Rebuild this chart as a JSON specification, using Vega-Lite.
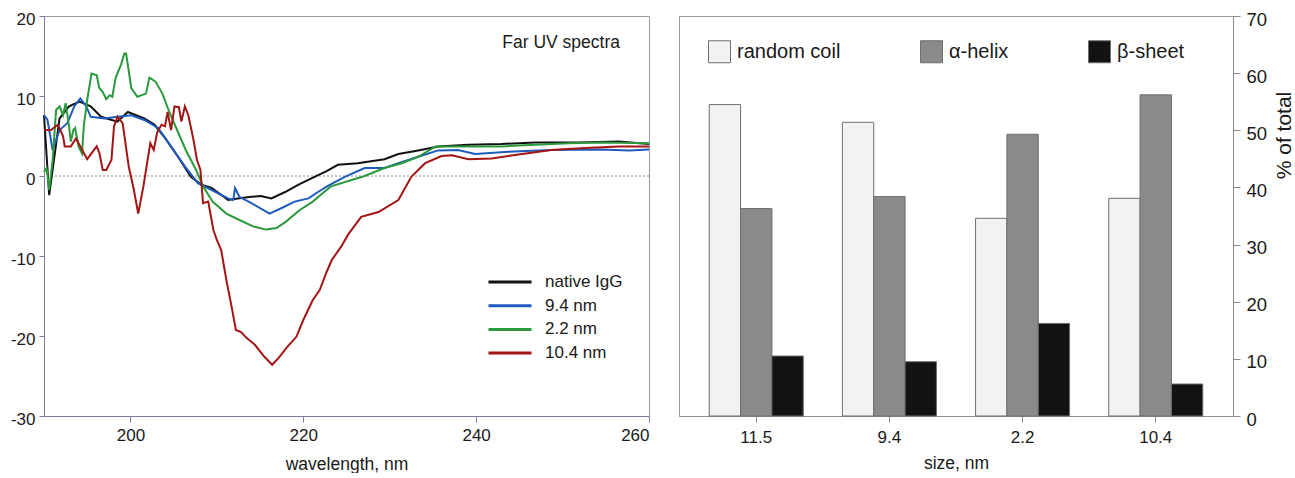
{
  "$schema": "https://vega.github.io/schema/vega-lite/v6.json",
  "background": "white",
  "padding": {"left": 9, "top": 9, "right": 0, "bottom": 0},
  "autosize": {"type": "pad"},
  "bounds": "flush",
  "spacing": 30,
  "config": {
    "font": "Liberation Sans",
    "view": {"stroke": "#9a9a9a", "strokeWidth": 1},
    "title": {"fontSize": 17.5, "fontWeight": "normal", "font": "Liberation Sans", "color": "#1a1a1a"},
    "axis": {
      "labelFont": "Liberation Sans",
      "titleFont": "Liberation Sans",
      "labelColor": "#1a1a1a",
      "titleColor": "#1a1a1a",
      "titleFontWeight": "normal",
      "grid": false
    },
    "legend": {"labelFont": "Liberation Sans", "labelColor": "#1a1a1a"}
  },
  "datasets": {
    "spectra": [
      {"wl": 190, "cd": 7.6, "sample": "native IgG"},
      {"wl": 190.6, "cd": -2.4, "sample": "native IgG"},
      {"wl": 191.8, "cd": 7.2, "sample": "native IgG"},
      {"wl": 192.9, "cd": 8.7, "sample": "native IgG"},
      {"wl": 194.1, "cd": 9.3, "sample": "native IgG"},
      {"wl": 195.4, "cd": 8.7, "sample": "native IgG"},
      {"wl": 196.6, "cd": 7.4, "sample": "native IgG"},
      {"wl": 198.5, "cd": 6.8, "sample": "native IgG"},
      {"wl": 199.7, "cd": 8.0, "sample": "native IgG"},
      {"wl": 201.6, "cd": 7.2, "sample": "native IgG"},
      {"wl": 202.8, "cd": 6.4, "sample": "native IgG"},
      {"wl": 203.9, "cd": 4.9, "sample": "native IgG"},
      {"wl": 205.5, "cd": 2.4, "sample": "native IgG"},
      {"wl": 207.0, "cd": -0.1, "sample": "native IgG"},
      {"wl": 208.2, "cd": -1.1, "sample": "native IgG"},
      {"wl": 209.4, "cd": -1.5, "sample": "native IgG"},
      {"wl": 211.3, "cd": -3.0, "sample": "native IgG"},
      {"wl": 212.4, "cd": -2.8, "sample": "native IgG"},
      {"wl": 214.0, "cd": -2.6, "sample": "native IgG"},
      {"wl": 215.1, "cd": -2.5, "sample": "native IgG"},
      {"wl": 216.3, "cd": -2.8, "sample": "native IgG"},
      {"wl": 217.9, "cd": -2.0, "sample": "native IgG"},
      {"wl": 219.4, "cd": -1.1, "sample": "native IgG"},
      {"wl": 221.3, "cd": -0.1, "sample": "native IgG"},
      {"wl": 222.7, "cd": 0.6, "sample": "native IgG"},
      {"wl": 224.0, "cd": 1.4, "sample": "native IgG"},
      {"wl": 226.3, "cd": 1.6, "sample": "native IgG"},
      {"wl": 229.4, "cd": 2.1, "sample": "native IgG"},
      {"wl": 231.0, "cd": 2.75, "sample": "native IgG"},
      {"wl": 233.3, "cd": 3.2, "sample": "native IgG"},
      {"wl": 235.6, "cd": 3.7, "sample": "native IgG"},
      {"wl": 239.1, "cd": 3.9, "sample": "native IgG"},
      {"wl": 242.9, "cd": 4.0, "sample": "native IgG"},
      {"wl": 246.8, "cd": 4.2, "sample": "native IgG"},
      {"wl": 251.8, "cd": 4.2, "sample": "native IgG"},
      {"wl": 256.5, "cd": 4.3, "sample": "native IgG"},
      {"wl": 260, "cd": 4.0, "sample": "native IgG"},

      {"wl": 190, "cd": 7.6, "sample": "9.4 nm"},
      {"wl": 190.4, "cd": 7.0, "sample": "9.4 nm"},
      {"wl": 191.0, "cd": 3.25, "sample": "9.4 nm"},
      {"wl": 191.8, "cd": 5.75, "sample": "9.4 nm"},
      {"wl": 192.7, "cd": 6.6, "sample": "9.4 nm"},
      {"wl": 193.5, "cd": 8.7, "sample": "9.4 nm"},
      {"wl": 194.2, "cd": 9.7, "sample": "9.4 nm"},
      {"wl": 194.9, "cd": 8.7, "sample": "9.4 nm"},
      {"wl": 195.4, "cd": 7.4, "sample": "9.4 nm"},
      {"wl": 197.0, "cd": 7.2, "sample": "9.4 nm"},
      {"wl": 198.5, "cd": 7.4, "sample": "9.4 nm"},
      {"wl": 200.1, "cd": 7.6, "sample": "9.4 nm"},
      {"wl": 201.6, "cd": 7.0, "sample": "9.4 nm"},
      {"wl": 203.2, "cd": 6.0, "sample": "9.4 nm"},
      {"wl": 204.7, "cd": 3.7, "sample": "9.4 nm"},
      {"wl": 206.3, "cd": 1.2, "sample": "9.4 nm"},
      {"wl": 207.8, "cd": -0.9, "sample": "9.4 nm"},
      {"wl": 209.4, "cd": -1.75, "sample": "9.4 nm"},
      {"wl": 211.3, "cd": -2.8, "sample": "9.4 nm"},
      {"wl": 211.9, "cd": -3.0, "sample": "9.4 nm"},
      {"wl": 212.1, "cd": -1.5, "sample": "9.4 nm"},
      {"wl": 212.6, "cd": -2.6, "sample": "9.4 nm"},
      {"wl": 214.0, "cd": -3.4, "sample": "9.4 nm"},
      {"wl": 216.1, "cd": -4.7, "sample": "9.4 nm"},
      {"wl": 217.5, "cd": -4.0, "sample": "9.4 nm"},
      {"wl": 219.0, "cd": -3.2, "sample": "9.4 nm"},
      {"wl": 220.6, "cd": -2.8, "sample": "9.4 nm"},
      {"wl": 221.7, "cd": -2.0, "sample": "9.4 nm"},
      {"wl": 222.9, "cd": -1.2, "sample": "9.4 nm"},
      {"wl": 224.8, "cd": -0.1, "sample": "9.4 nm"},
      {"wl": 227.1, "cd": 1.0, "sample": "9.4 nm"},
      {"wl": 229.4, "cd": 1.0, "sample": "9.4 nm"},
      {"wl": 231.0, "cd": 1.6, "sample": "9.4 nm"},
      {"wl": 233.3, "cd": 2.4, "sample": "9.4 nm"},
      {"wl": 235.6, "cd": 3.2, "sample": "9.4 nm"},
      {"wl": 237.9, "cd": 3.25, "sample": "9.4 nm"},
      {"wl": 239.9, "cd": 2.75, "sample": "9.4 nm"},
      {"wl": 243.3, "cd": 3.0, "sample": "9.4 nm"},
      {"wl": 248.7, "cd": 3.25, "sample": "9.4 nm"},
      {"wl": 254.5, "cd": 3.3, "sample": "9.4 nm"},
      {"wl": 257.7, "cd": 3.2, "sample": "9.4 nm"},
      {"wl": 260, "cd": 3.3, "sample": "9.4 nm"},

      {"wl": 190, "cd": 0.5, "sample": "2.2 nm"},
      {"wl": 190.3, "cd": 1.0, "sample": "2.2 nm"},
      {"wl": 190.6, "cd": -1.75, "sample": "2.2 nm"},
      {"wl": 191.0, "cd": 2.0, "sample": "2.2 nm"},
      {"wl": 191.4, "cd": 8.25, "sample": "2.2 nm"},
      {"wl": 191.8, "cd": 8.7, "sample": "2.2 nm"},
      {"wl": 192.2, "cd": 7.6, "sample": "2.2 nm"},
      {"wl": 192.5, "cd": 9.1, "sample": "2.2 nm"},
      {"wl": 192.9, "cd": 6.2, "sample": "2.2 nm"},
      {"wl": 193.1, "cd": 4.3, "sample": "2.2 nm"},
      {"wl": 193.4, "cd": 5.75, "sample": "2.2 nm"},
      {"wl": 193.6, "cd": 6.0, "sample": "2.2 nm"},
      {"wl": 194.0, "cd": 3.7, "sample": "2.2 nm"},
      {"wl": 194.4, "cd": 2.8, "sample": "2.2 nm"},
      {"wl": 194.6, "cd": 6.2, "sample": "2.2 nm"},
      {"wl": 195.0, "cd": 9.5, "sample": "2.2 nm"},
      {"wl": 195.5, "cd": 12.8, "sample": "2.2 nm"},
      {"wl": 196.1, "cd": 12.6, "sample": "2.2 nm"},
      {"wl": 196.4, "cd": 11.0, "sample": "2.2 nm"},
      {"wl": 196.8, "cd": 10.5, "sample": "2.2 nm"},
      {"wl": 197.2, "cd": 9.6, "sample": "2.2 nm"},
      {"wl": 197.6, "cd": 10.1, "sample": "2.2 nm"},
      {"wl": 197.9, "cd": 9.9, "sample": "2.2 nm"},
      {"wl": 198.3, "cd": 12.3, "sample": "2.2 nm"},
      {"wl": 198.9, "cd": 13.9, "sample": "2.2 nm"},
      {"wl": 199.3, "cd": 15.3, "sample": "2.2 nm"},
      {"wl": 199.5, "cd": 15.3, "sample": "2.2 nm"},
      {"wl": 200.1, "cd": 11.0, "sample": "2.2 nm"},
      {"wl": 200.8, "cd": 9.9, "sample": "2.2 nm"},
      {"wl": 201.8, "cd": 10.3, "sample": "2.2 nm"},
      {"wl": 202.2, "cd": 12.3, "sample": "2.2 nm"},
      {"wl": 202.9, "cd": 11.8, "sample": "2.2 nm"},
      {"wl": 203.7, "cd": 10.3, "sample": "2.2 nm"},
      {"wl": 204.5, "cd": 8.0, "sample": "2.2 nm"},
      {"wl": 205.3, "cd": 6.0, "sample": "2.2 nm"},
      {"wl": 206.4, "cd": 3.25, "sample": "2.2 nm"},
      {"wl": 207.6, "cd": 0.75, "sample": "2.2 nm"},
      {"wl": 208.4, "cd": -1.3, "sample": "2.2 nm"},
      {"wl": 209.5, "cd": -3.2, "sample": "2.2 nm"},
      {"wl": 211.1, "cd": -4.7, "sample": "2.2 nm"},
      {"wl": 212.6, "cd": -5.5, "sample": "2.2 nm"},
      {"wl": 214.2, "cd": -6.3, "sample": "2.2 nm"},
      {"wl": 215.7, "cd": -6.7, "sample": "2.2 nm"},
      {"wl": 216.9, "cd": -6.5, "sample": "2.2 nm"},
      {"wl": 218.0, "cd": -5.7, "sample": "2.2 nm"},
      {"wl": 219.6, "cd": -4.25, "sample": "2.2 nm"},
      {"wl": 221.1, "cd": -3.2, "sample": "2.2 nm"},
      {"wl": 222.2, "cd": -2.2, "sample": "2.2 nm"},
      {"wl": 223.2, "cd": -1.3, "sample": "2.2 nm"},
      {"wl": 225.6, "cd": -0.5, "sample": "2.2 nm"},
      {"wl": 227.1, "cd": 0.0, "sample": "2.2 nm"},
      {"wl": 229.4, "cd": 1.0, "sample": "2.2 nm"},
      {"wl": 231.4, "cd": 1.6, "sample": "2.2 nm"},
      {"wl": 233.3, "cd": 2.4, "sample": "2.2 nm"},
      {"wl": 235.3, "cd": 3.7, "sample": "2.2 nm"},
      {"wl": 237.9, "cd": 3.7, "sample": "2.2 nm"},
      {"wl": 242.9, "cd": 3.7, "sample": "2.2 nm"},
      {"wl": 246.8, "cd": 3.9, "sample": "2.2 nm"},
      {"wl": 250.7, "cd": 4.1, "sample": "2.2 nm"},
      {"wl": 254.5, "cd": 4.2, "sample": "2.2 nm"},
      {"wl": 260, "cd": 4.1, "sample": "2.2 nm"},

      {"wl": 190, "cd": 5.75, "sample": "10.4 nm"},
      {"wl": 190.8, "cd": 5.75, "sample": "10.4 nm"},
      {"wl": 191.6, "cd": 6.4, "sample": "10.4 nm"},
      {"wl": 192.2, "cd": 5.0, "sample": "10.4 nm"},
      {"wl": 192.4, "cd": 3.7, "sample": "10.4 nm"},
      {"wl": 193.1, "cd": 3.7, "sample": "10.4 nm"},
      {"wl": 193.7, "cd": 4.7, "sample": "10.4 nm"},
      {"wl": 194.2, "cd": 3.7, "sample": "10.4 nm"},
      {"wl": 195.0, "cd": 2.1, "sample": "10.4 nm"},
      {"wl": 196.1, "cd": 3.7, "sample": "10.4 nm"},
      {"wl": 196.4, "cd": 2.9, "sample": "10.4 nm"},
      {"wl": 196.8, "cd": 0.75, "sample": "10.4 nm"},
      {"wl": 197.2, "cd": 0.75, "sample": "10.4 nm"},
      {"wl": 197.8, "cd": 2.0, "sample": "10.4 nm"},
      {"wl": 198.1, "cd": 6.2, "sample": "10.4 nm"},
      {"wl": 198.5, "cd": 7.4, "sample": "10.4 nm"},
      {"wl": 199.1, "cd": 6.6, "sample": "10.4 nm"},
      {"wl": 199.8, "cd": 1.2, "sample": "10.4 nm"},
      {"wl": 200.4, "cd": -1.75, "sample": "10.4 nm"},
      {"wl": 200.9, "cd": -4.7, "sample": "10.4 nm"},
      {"wl": 201.5, "cd": -1.3, "sample": "10.4 nm"},
      {"wl": 202.3, "cd": 4.1, "sample": "10.4 nm"},
      {"wl": 202.7, "cd": 3.25, "sample": "10.4 nm"},
      {"wl": 203.1, "cd": 5.5, "sample": "10.4 nm"},
      {"wl": 203.6, "cd": 6.4, "sample": "10.4 nm"},
      {"wl": 204.0, "cd": 6.2, "sample": "10.4 nm"},
      {"wl": 204.3, "cd": 8.0, "sample": "10.4 nm"},
      {"wl": 204.7, "cd": 5.75, "sample": "10.4 nm"},
      {"wl": 205.1, "cd": 8.7, "sample": "10.4 nm"},
      {"wl": 205.6, "cd": 8.6, "sample": "10.4 nm"},
      {"wl": 205.9, "cd": 6.8, "sample": "10.4 nm"},
      {"wl": 206.3, "cd": 8.7, "sample": "10.4 nm"},
      {"wl": 206.7, "cd": 7.6, "sample": "10.4 nm"},
      {"wl": 207.3, "cd": 4.5, "sample": "10.4 nm"},
      {"wl": 207.7, "cd": 2.0, "sample": "10.4 nm"},
      {"wl": 208.1, "cd": 0.75, "sample": "10.4 nm"},
      {"wl": 208.4, "cd": -3.4, "sample": "10.4 nm"},
      {"wl": 209.0, "cd": -3.2, "sample": "10.4 nm"},
      {"wl": 209.6, "cd": -6.75, "sample": "10.4 nm"},
      {"wl": 210.0, "cd": -8.0, "sample": "10.4 nm"},
      {"wl": 210.5, "cd": -9.25, "sample": "10.4 nm"},
      {"wl": 211.1, "cd": -13.0, "sample": "10.4 nm"},
      {"wl": 211.7, "cd": -16.3, "sample": "10.4 nm"},
      {"wl": 212.2, "cd": -19.25, "sample": "10.4 nm"},
      {"wl": 212.8, "cd": -19.5, "sample": "10.4 nm"},
      {"wl": 213.4, "cd": -20.2, "sample": "10.4 nm"},
      {"wl": 214.4, "cd": -21.1, "sample": "10.4 nm"},
      {"wl": 215.5, "cd": -22.6, "sample": "10.4 nm"},
      {"wl": 216.4, "cd": -23.6, "sample": "10.4 nm"},
      {"wl": 217.1, "cd": -22.8, "sample": "10.4 nm"},
      {"wl": 218.2, "cd": -21.3, "sample": "10.4 nm"},
      {"wl": 219.2, "cd": -20.1, "sample": "10.4 nm"},
      {"wl": 220.0, "cd": -18.0, "sample": "10.4 nm"},
      {"wl": 221.1, "cd": -15.5, "sample": "10.4 nm"},
      {"wl": 221.9, "cd": -14.25, "sample": "10.4 nm"},
      {"wl": 222.7, "cd": -12.0, "sample": "10.4 nm"},
      {"wl": 223.3, "cd": -10.5, "sample": "10.4 nm"},
      {"wl": 224.4, "cd": -8.8, "sample": "10.4 nm"},
      {"wl": 225.2, "cd": -7.3, "sample": "10.4 nm"},
      {"wl": 226.7, "cd": -5.1, "sample": "10.4 nm"},
      {"wl": 228.7, "cd": -4.5, "sample": "10.4 nm"},
      {"wl": 231.0, "cd": -3.0, "sample": "10.4 nm"},
      {"wl": 232.5, "cd": -0.1, "sample": "10.4 nm"},
      {"wl": 234.1, "cd": 1.6, "sample": "10.4 nm"},
      {"wl": 236.0, "cd": 2.5, "sample": "10.4 nm"},
      {"wl": 237.2, "cd": 2.6, "sample": "10.4 nm"},
      {"wl": 239.1, "cd": 2.1, "sample": "10.4 nm"},
      {"wl": 241.8, "cd": 2.2, "sample": "10.4 nm"},
      {"wl": 244.9, "cd": 2.7, "sample": "10.4 nm"},
      {"wl": 248.7, "cd": 3.25, "sample": "10.4 nm"},
      {"wl": 252.6, "cd": 3.5, "sample": "10.4 nm"},
      {"wl": 256.5, "cd": 3.7, "sample": "10.4 nm"},
      {"wl": 260, "cd": 3.7, "sample": "10.4 nm"}
    ],
    "structure": [
      {"size": "11.5", "type": "random coil", "pct": 54.5},
      {"size": "11.5", "type": "α-helix", "pct": 36.3},
      {"size": "11.5", "type": "β-sheet", "pct": 10.5},
      {"size": "9.4", "type": "random coil", "pct": 51.4},
      {"size": "9.4", "type": "α-helix", "pct": 38.4},
      {"size": "9.4", "type": "β-sheet", "pct": 9.5},
      {"size": "2.2", "type": "random coil", "pct": 34.6},
      {"size": "2.2", "type": "α-helix", "pct": 49.3},
      {"size": "2.2", "type": "β-sheet", "pct": 16.2},
      {"size": "10.4", "type": "random coil", "pct": 38.1},
      {"size": "10.4", "type": "α-helix", "pct": 56.2},
      {"size": "10.4", "type": "β-sheet", "pct": 5.6}
    ]
  },
  "hconcat": [
    {
      "width": 605,
      "height": 400,
      "title": {
        "text": "Far UV spectra",
        "anchor": "end",
        "frame": "group",
        "orient": "top",
        "offset": -41,
        "dx": -29,
        "fontSize": 17.5,
        "fontWeight": "normal",
        "font": "Liberation Sans",
        "color": "#1a1a1a"
      },
      "layer": [
        {
          "data": {"values": [{}]},
          "mark": {"type": "rule", "color": "#8c8c8c", "strokeWidth": 1, "strokeDash": [2, 2]},
          "encoding": {"y": {"datum": 0, "type": "quantitative"}}
        },
        {
          "data": {"name": "spectra"},
          "mark": {"type": "line", "strokeWidth": 2},
          "encoding": {
            "x": {
              "field": "wl",
              "type": "quantitative",
              "scale": {"domain": [190, 260], "nice": false, "zero": false},
              "axis": {
                "title": "wavelength, nm",
                "values": [200, 220, 240, 260],
                "labelFontSize": 17,
                "titleFontSize": 17.5,
                "tickSize": 6,
                "labelPadding": 5,
                "titlePadding": 12,
                "domainColor": "#7c7c9c",
                "tickColor": "#7c7c9c"
              }
            },
            "y": {
              "field": "cd",
              "type": "quantitative",
              "scale": {"domain": [-30, 20], "nice": false, "zero": false},
              "axis": {
                "title": null,
                "values": [-30, -20, -10, 0, 10, 20],
                "labelExpr": "'' + datum.value",
                "labelFontSize": 17,
                "tickSize": 5,
                "labelPadding": 4,
                "labelOffset": 3,
                "domainColor": "#7c7c9c",
                "tickColor": "#7c7c9c"
              }
            },
            "color": {
              "field": "sample",
              "type": "nominal",
              "sort": ["native IgG", "9.4 nm", "2.2 nm", "10.4 nm"],
              "scale": {
                "domain": ["native IgG", "9.4 nm", "2.2 nm", "10.4 nm"],
                "range": ["#111111", "#1f5bbd", "#2a9a3c", "#a31515"]
              },
              "legend": {
                "title": null,
                "orient": "none",
                "legendX": 443,
                "legendY": 256,
                "symbolType": "stroke",
                "symbolSize": 1849,
                "symbolStrokeWidth": 3,
                "clipHeight": 20,
                "rowPadding": 3.7,
                "labelFontSize": 17,
                "labelOffset": 12
              }
            }
          }
        }
      ]
    },
    {
      "width": 554,
      "height": 400,
      "data": {"name": "structure"},
      "mark": {"type": "bar", "stroke": "#6e6e6e", "strokeWidth": 1},
      "encoding": {
        "x": {
          "field": "size",
          "type": "nominal",
          "sort": ["11.5", "9.4", "2.2", "10.4"],
          "scale": {"paddingInner": 0.294, "paddingOuter": 0.227},
          "axis": {
            "title": "size, nm",
            "labelAngle": 0,
            "labelFontSize": 17,
            "titleFontSize": 17.5,
            "tickSize": 6,
            "labelPadding": 7,
            "titlePadding": 9,
            "domainColor": "#8c8c8c",
            "tickColor": "#8c8c8c"
          }
        },
        "xOffset": {
          "field": "type",
          "type": "nominal",
          "sort": ["random coil", "α-helix", "β-sheet"],
          "scale": {"paddingInner": 0, "paddingOuter": 0}
        },
        "y": {
          "field": "pct",
          "type": "quantitative",
          "scale": {"domain": [0, 70], "nice": false},
          "axis": {
            "orient": "right",
            "title": "% of total",
            "values": [0, 10, 20, 30, 40, 50, 60, 70],
            "labelFontSize": 18.5,
            "titleFontSize": 21,
            "tickSize": 7,
            "labelPadding": 6,
            "labelOffset": 3,
            "titleAngle": 270,
            "titleX": 51,
            "titleY": 119,
            "titleAlign": "center",
            "titleBaseline": "middle",
            "domainColor": "#8c8c8c",
            "tickColor": "#8c8c8c"
          }
        },
        "fill": {
          "field": "type",
          "type": "nominal",
          "sort": ["random coil", "α-helix", "β-sheet"],
          "scale": {
            "domain": ["random coil", "α-helix", "β-sheet"],
            "range": ["#f2f2f2", "#8a8a8a", "#121212"]
          },
          "legend": {
            "title": null,
            "orient": "none",
            "direction": "horizontal",
            "legendX": 664,
            "legendY": 24,
            "symbolType": "square",
            "symbolSize": 484,
            "symbolStrokeColor": "#6e6e6e",
            "symbolStrokeWidth": 1,
            "symbolOpacity": 1,
            "labelFontSize": 20,
            "labelOffset": 6,
            "columnPadding": 77
          }
        }
      }
    }
  ]
}
